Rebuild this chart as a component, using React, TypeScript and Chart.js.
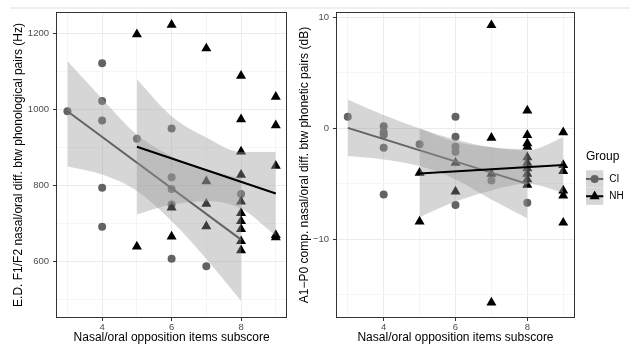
import React, { useEffect, useRef } from 'react';
import { Chart, registerables } from 'chart.js';

Chart.register(...registerables);

const FONT = '"Liberation Sans", Arial, Helvetica, sans-serif';
Chart.defaults.font.family = FONT;

// ---------- shared x axis ----------
const xTicks = [3, 4, 5, 6, 7, 8, 9];
const xTickLabels = ['', '4', '', '6', '', '8', ''];
const xTitle = 'Nasal/oral opposition items subscore';

// ---------- left panel: E.D. F1/F2 (Hz) ----------
const edTitle = 'E.D. F1/F2 nasal/oral diff. btw phonological pairs (Hz)';
const edYTicks = [500, 600, 700, 800, 900, 1000, 1100, 1200];
const edYTickLabels = ['', '600', '', '800', '', '1000', '', '1200'];

const edCiX = [3, 4, 4, 4, 4, 4, 5, 6, 6, 6, 6, 6, 7, 8];
const edCiY = [995, 1121, 1022, 971, 794, 692, 923, 950, 822, 791, 750, 608, 588, 778];

const edNhX = [5, 5, 6, 6, 6, 7, 7, 7, 7, 8, 8, 8, 8, 8, 8, 8, 8, 8, 8, 9, 9, 9, 9, 9];
const edNhY = [1197, 640, 1222, 742, 666, 1160, 811, 752, 693, 1088, 974, 889, 828, 758, 728, 707, 686, 654, 630, 1033, 958, 852, 670, 664];

const edCiFitX = [3, 8];
const edCiFitY = [995, 658];
const edNhFitX = [5, 9];
const edNhFitY = [902, 779];

const edCiBandX = [3, 4, 5, 6, 7, 8];
const edCiUpper = [1127, 1028, 934, 877, 843, 819];
const edCiLower = [850, 829, 786, 707, 607, 497];
const edNhBandX = [5, 6, 7, 8, 9];
const edNhUpper = [1079, 982, 926, 888, 888];
const edNhLower = [724, 750, 759, 740, 668];

// ---------- right panel: A1-P0 (dB) ----------
const a0Title = 'A1\u2212P0 comp. nasal/oral diff. btw phonetic pairs (dB)';
const a0YTicks = [-15, -10, -5, 0, 5, 10];
const a0YTickLabels = ['', '\u221210', '', '0', '', '10'];

const a0CiX = [3, 4, 4, 4, 4, 4, 5, 6, 6, 6, 6, 6, 7, 8];
const a0CiY = [1.05, 0.2, -0.35, -0.6, -1.75, -5.96, -1.42, 1.05, -0.75, -1.66, -2.1, -6.9, -4.7, -6.7];

const a0NhX = [5, 5, 6, 6, 7, 7, 7, 7, 8, 8, 8, 8, 8, 8, 8, 8, 8, 8, 9, 9, 9, 9, 9, 9];
const a0NhY = [-4.0, -8.4, -3.1, -5.7, 9.3, -0.85, -4.1, -15.7, 1.6, -0.6, -1.35, -1.66, -2.6, -3.1, -3.6, -4.1, -4.6, -5.1, -0.36, -3.3, -3.85, -5.6, -6.05, -8.5];

const a0CiFitX = [3, 8];
const a0CiFitY = [0.05, -5.0];
const a0NhFitX = [5, 9];
const a0NhFitY = [-4.06, -3.31];

const a0CiBandX = [3, 4, 5, 6, 7, 8];
const a0CiUpper = [2.6, 1.2, 0.0, -1.0, -1.7, -1.9];
const a0CiLower = [-2.5, -2.8, -3.4, -4.6, -6.4, -8.1];
const a0NhBandX = [5, 6, 7, 8, 9];
const a0NhUpper = [0.0, -1.2, -1.7, -2.0, -0.8];
const a0NhLower = [-8.0, -6.6, -5.6, -5.0, -5.8];

// ---------- legend ----------
const legendTitle = 'Group';
const groups = ['CI', 'NH'];

// ---------- styles ----------
const CI_COLOR = '#636363';
const NH_COLOR = '#000000';
const BAND = 'rgba(153,153,153,0.4)';
const TICK_COLOR = '#4d4d4d';

function pts(xs: number[], ys: number[]) {
  return xs.map((x, i) => ({ x, y: ys[i] }));
}

const panelBorder = {
  id: 'panelBorder',
  afterDraw(chart: any) {
    const { ctx, chartArea: a } = chart;
    ctx.save();
    ctx.strokeStyle = '#333333';
    ctx.lineWidth = 1;
    ctx.strokeRect(Math.round(a.left) - 0.5, Math.round(a.top) - 0.5, Math.round(a.right - a.left) + 1, Math.round(a.bottom - a.top) + 1);
    ctx.restore();
  },
};

function drawTriangle(ctx: CanvasRenderingContext2D, x: number, y: number, r: number) {
  let rad = 0;
  ctx.beginPath();
  ctx.moveTo(x + Math.sin(rad) * r, y - Math.cos(rad) * r);
  rad += (2 * Math.PI) / 3;
  ctx.lineTo(x + Math.sin(rad) * r, y - Math.cos(rad) * r);
  rad += (2 * Math.PI) / 3;
  ctx.lineTo(x + Math.sin(rad) * r, y - Math.cos(rad) * r);
  ctx.closePath();
  ctx.fill();
}

function makeLegendPlugin(x0: number) {
  return {
    id: 'groupLegend',
    afterDraw(chart: any) {
      const ctx: CanvasRenderingContext2D = chart.ctx;
      ctx.save();
      ctx.fillStyle = '#000';
      ctx.font = `12px ${FONT}`;
      ctx.textBaseline = 'middle';
      ctx.textAlign = 'left';
      ctx.fillText(legendTitle, x0, 157);
      const keyW = 17.3;
      const keyH = 17.3;
      const top = 170.3;
      groups.forEach((g, i) => {
        const ky = top + i * keyH;
        const cy = ky + keyH / 2;
        ctx.fillStyle = '#ffffff';
        ctx.fillRect(x0, ky, keyW, keyH);
        ctx.fillStyle = BAND;
        ctx.fillRect(x0, ky, keyW, keyH);
        const col = i === 0 ? CI_COLOR : NH_COLOR;
        ctx.strokeStyle = col;
        ctx.lineWidth = 2;
        ctx.beginPath();
        ctx.moveTo(x0, cy);
        ctx.lineTo(x0 + keyW, cy);
        ctx.stroke();
        ctx.fillStyle = col;
        if (i === 0) {
          ctx.beginPath();
          ctx.arc(x0 + keyW / 2, cy, 4, 0, Math.PI * 2);
          ctx.fill();
        } else {
          drawTriangle(ctx, x0 + keyW / 2, cy, 5.8);
        }
        ctx.fillStyle = '#000';
        ctx.font = `10px ${FONT}`;
        ctx.fillText(g, x0 + keyW + 6, cy);
      });
      ctx.restore();
    },
  };
}

type PanelProps = {
  ciX: number[]; ciY: number[]; nhX: number[]; nhY: number[];
  ciFitX: number[]; ciFitY: number[]; nhFitX: number[]; nhFitY: number[];
  ciBandX: number[]; ciUpper: number[]; ciLower: number[];
  nhBandX: number[]; nhUpper: number[]; nhLower: number[];
  yTicks: number[]; yTickLabels: string[]; yMin: number; yMax: number;
  yTitle: string; yAxisWidth: number; yTitlePad: number;
  padRight: number; legendX?: number;
};

function buildConfig(p: PanelProps): any {
  const bandLine = {
    type: 'line',
    borderColor: 'rgba(0,0,0,0)',
    borderWidth: 0,
    pointRadius: 0,
    cubicInterpolationMode: 'monotone',
  };
  const xMajor = (v: number) => xTickLabels[xTicks.indexOf(v)] !== '' && xTicks.indexOf(v) >= 0;
  const yMajor = (v: number) => p.yTickLabels[p.yTicks.indexOf(v)] !== '' && p.yTicks.indexOf(v) >= 0;
  const plugins: any[] = [panelBorder];
  if (p.legendX !== undefined) plugins.push(makeLegendPlugin(p.legendX));
  return {
    type: 'scatter',
    data: {
      datasets: [
        {
          label: 'CI', data: pts(p.ciX, p.ciY), pointStyle: 'circle', pointRadius: 4,
          pointBackgroundColor: CI_COLOR, pointBorderColor: CI_COLOR, pointBorderWidth: 0,
          backgroundColor: CI_COLOR, borderColor: CI_COLOR, order: 10,
        },
        {
          label: 'NH', data: pts(p.nhX, p.nhY), pointStyle: 'triangle', pointRadius: 5.8,
          pointBackgroundColor: NH_COLOR, pointBorderColor: NH_COLOR, pointBorderWidth: 0,
          backgroundColor: NH_COLOR, borderColor: NH_COLOR, order: 9,
        },
        { ...bandLine, data: pts(p.ciBandX, p.ciUpper), fill: '+1', backgroundColor: BAND, order: 8 },
        { ...bandLine, data: pts(p.ciBandX, p.ciLower), fill: false, order: 7 },
        {
          type: 'line', data: pts(p.ciFitX, p.ciFitY), borderColor: CI_COLOR, borderWidth: 2,
          pointRadius: 0, fill: false, order: 6,
        },
        { ...bandLine, data: pts(p.nhBandX, p.nhUpper), fill: '+1', backgroundColor: BAND, order: 5 },
        { ...bandLine, data: pts(p.nhBandX, p.nhLower), fill: false, order: 4 },
        {
          type: 'line', data: pts(p.nhFitX, p.nhFitY), borderColor: NH_COLOR, borderWidth: 2,
          pointRadius: 0, fill: false, order: 3,
        },
      ],
    },
    options: {
      animation: false,
      responsive: false,
      devicePixelRatio: 1,
      events: [],
      layout: { padding: { left: 0, top: 13, right: p.padRight, bottom: 0 } },
      plugins: { legend: { display: false }, tooltip: { enabled: false } },
      scales: {
        x: {
          type: 'linear', min: 2.7, max: 9.3,
          afterBuildTicks: (s: any) => { s.ticks = xTicks.map((v) => ({ value: v })); },
          afterFit: (s: any) => { s.height = 28; },
          ticks: {
            callback: (_v: any, i: number) => xTickLabels[i],
            color: TICK_COLOR, font: { size: 9.5 }, padding: 1, maxRotation: 0, autoSkip: false,
          },
          grid: {
            color: (c: any) => (c.tick && xMajor(c.tick.value) ? '#ebebeb' : '#f5f5f5'),
            tickColor: (c: any) => (c.tick && xMajor(c.tick.value) ? '#333333' : 'rgba(0,0,0,0)'),
            tickLength: 4, lineWidth: 1,
          },
          border: { display: false },
          title: { display: true, text: xTitle, color: '#000', font: { size: 12 }, padding: { top: 0, bottom: 0 } },
        },
        y: {
          type: 'linear', min: p.yMin, max: p.yMax,
          afterBuildTicks: (s: any) => { s.ticks = p.yTicks.map((v) => ({ value: v })); },
          afterFit: (s: any) => { s.width = p.yAxisWidth; },
          ticks: {
            callback: (_v: any, i: number) => p.yTickLabels[i],
            color: TICK_COLOR, font: { size: 9.5 }, padding: 4, autoSkip: false,
          },
          grid: {
            color: (c: any) => (c.tick && yMajor(c.tick.value) ? '#ebebeb' : '#f5f5f5'),
            tickColor: (c: any) => (c.tick && yMajor(c.tick.value) ? '#333333' : 'rgba(0,0,0,0)'),
            tickLength: 4, lineWidth: 1,
          },
          border: { display: false },
          title: { display: true, text: p.yTitle, color: '#000', font: { size: 12 }, padding: { top: p.yTitlePad, bottom: 0 } },
        },
      },
    },
    plugins,
  };
}

function Panel({ width, left, props }: { width: number; left: number; props: PanelProps }) {
  const ref = useRef<HTMLCanvasElement | null>(null);
  useEffect(() => {
    if (!ref.current) return;
    const chart = new Chart(ref.current, buildConfig(props));
    return () => chart.destroy();
  }, []);
  return (
    <canvas
      ref={ref}
      width={width}
      height={345}
      style={{ position: 'absolute', left, top: 0, width, height: 345, display: 'block' }}
    />
  );
}

export default function App() {
  const leftProps: PanelProps = {
    ciX: edCiX, ciY: edCiY, nhX: edNhX, nhY: edNhY,
    ciFitX: edCiFitX, ciFitY: edCiFitY, nhFitX: edNhFitX, nhFitY: edNhFitY,
    ciBandX: edCiBandX, ciUpper: edCiUpper, ciLower: edCiLower,
    nhBandX: edNhBandX, nhUpper: edNhUpper, nhLower: edNhLower,
    yTicks: edYTicks, yTickLabels: edYTickLabels, yMin: 455, yMax: 1253,
    yTitle: edTitle, yAxisWidth: 57, yTitlePad: 11, padRight: 3,
  };
  const rightProps: PanelProps = {
    ciX: a0CiX, ciY: a0CiY, nhX: a0NhX, nhY: a0NhY,
    ciFitX: a0CiFitX, ciFitY: a0CiFitY, nhFitX: a0NhFitX, nhFitY: a0NhFitY,
    ciBandX: a0CiBandX, ciUpper: a0CiUpper, ciLower: a0CiLower,
    nhBandX: a0NhBandX, nhUpper: a0NhUpper, nhLower: a0NhLower,
    yTicks: a0YTicks, yTickLabels: a0YTickLabels, yMin: -17.0, yMax: 10.4,
    yTitle: a0Title, yAxisWidth: 45, yTitlePad: 5, padRight: 56, legendX: 294,
  };
  return (
    <div style={{ position: 'absolute', left: 0, top: 0, width: 630, height: 345, background: '#fff', overflow: 'hidden' }}>
      <div style={{ position: 'absolute', left: 10, top: 7, width: 620, height: 2, background: '#f0f0f0' }} />
      <Panel width={292} left={0} props={leftProps} />
      <Panel width={338} left={292} props={rightProps} />
    </div>
  );
}
